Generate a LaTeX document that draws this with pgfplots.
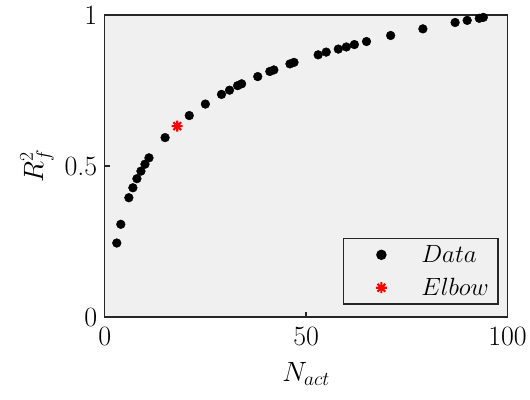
\RequirePackage{fix-cm}
\documentclass[border=0pt]{standalone}
\usepackage{fontspec}
\usepackage{pgfplots}
\pgfplotsset{compat=1.18}
\definecolor{axbg}{HTML}{F0F0F0}
\definecolor{axline}{HTML}{262626}
\newcommand{\axfont}{\fontsize{28}{32}\selectfont}
\newcommand{\legfont}{\fontsize{25}{29}\selectfont}

% eight-spoke asterisk (plus and cross together)
\pgfdeclareplotmark{spoke8}{%
  \pgfpathmoveto{\pgfqpoint{-\pgfplotmarksize}{0pt}}%
  \pgfpathlineto{\pgfqpoint{\pgfplotmarksize}{0pt}}%
  \pgfpathmoveto{\pgfqpoint{0pt}{-\pgfplotmarksize}}%
  \pgfpathlineto{\pgfqpoint{0pt}{\pgfplotmarksize}}%
  \pgfpathmoveto{\pgfqpoint{-0.7071\pgfplotmarksize}{-0.7071\pgfplotmarksize}}%
  \pgfpathlineto{\pgfqpoint{0.7071\pgfplotmarksize}{0.7071\pgfplotmarksize}}%
  \pgfpathmoveto{\pgfqpoint{-0.7071\pgfplotmarksize}{0.7071\pgfplotmarksize}}%
  \pgfpathlineto{\pgfqpoint{0.7071\pgfplotmarksize}{-0.7071\pgfplotmarksize}}%
  \pgfusepathqstroke}

\begin{document}
\begin{tikzpicture}
\begin{axis}[
  scale only axis,
  width=404pt, height=303pt,
  xmin=0, xmax=100, ymin=0, ymax=1,
  xtick={0,50,100}, ytick={0,0.5,1},
  yticklabels={0,0.5,1},
  tick label style={font=\axfont},
  xticklabel style={yshift=-7pt},
  yticklabel style={xshift=-4pt},
  label style={font=\axfont},
  xlabel style={yshift=-10pt},
  ylabel style={yshift=4pt},
  axis background/.style={fill=axbg},
  axis line style={axline, line width=1.6pt},
  tick style={axline, line width=1.2pt},
  major tick length=5pt,
  tick align=inside,
  xtick pos=bottom, ytick pos=left,
  xlabel={$N_{act}$}, ylabel={$R_f^2$},
  legend style={at={(rel axis cs:0.978,0.04)}, anchor=south east,
    fill=axbg, draw=axline, line width=1.6pt,
    inner xsep=0pt, inner ysep=0pt, row sep=0pt, column sep=0pt,
    nodes={inner sep=0pt},
    font=\legfont},
  legend cell align=left,
  legend image code/.code={%
    \path[draw=none, fill=none] (-38pt,-16.5pt) rectangle (40pt,16.5pt);
    \draw[#1] plot coordinates {(0pt,0pt)};},
  clip=false,
]
\addplot[only marks, mark=*, mark size=4.4pt, black] coordinates {
(3,0.245) (4,0.307) (6,0.395) (7,0.428) (8,0.458) (9,0.483) (10,0.506) (11,0.527)
(15,0.594) (21,0.667) (25,0.705) (29,0.737) (31,0.751) (33,0.766) (34,0.772)
(38,0.796) (41,0.813) (42,0.818) (46,0.838) (47,0.843) (53,0.868) (55,0.877)
(58,0.887) (60,0.894) (62,0.902) (65,0.912) (71,0.932) (79,0.954) (87,0.975)
(90,0.982) (93,0.989) (94,0.992)
};
\addlegendentry{$Data$}
\addplot[only marks, mark=spoke8, mark size=5.5pt, red, line width=2.2pt] coordinates {
(18,0.632)
};
\addlegendentry{$Elbow$\hspace*{9pt}}
\end{axis}
\path (current axis.south west) ++(-105pt,-83pt) rectangle ++(530pt,401pt);
\end{tikzpicture}
\end{document}
